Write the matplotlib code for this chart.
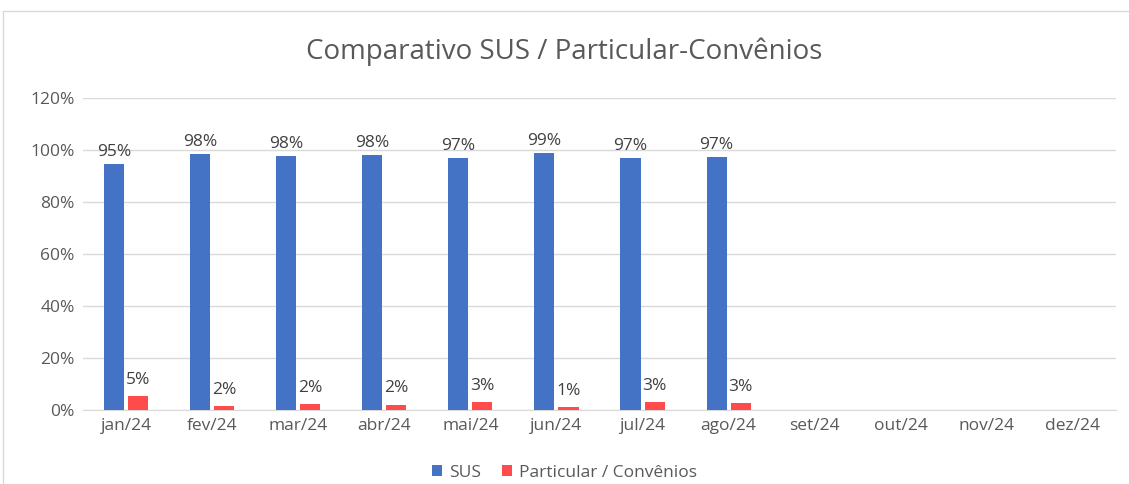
import matplotlib.pyplot as plt
import numpy as np
from matplotlib.patches import Rectangle

months = ["jan/24", "fev/24", "mar/24", "abr/24", "mai/24", "jun/24",
          "jul/24", "ago/24", "set/24", "out/24", "nov/24", "dez/24"]
sus = [94.7, 98.4, 97.7, 98.0, 97.0, 98.8, 97.0, 97.3]
particular = [5.3, 1.6, 2.3, 2.0, 3.0, 1.2, 3.0, 2.7]
yticks = [0, 20, 40, 60, 80, 100, 120]

plt.rcParams['font.family'] = ['Open Sans', 'DejaVu Sans']
txt = "#595959"

fig = plt.figure(figsize=(11.29, 4.84), dpi=100)
ax = fig.add_axes([83/1129, 1 - 410/484, (1116 - 83)/1129, (410 - 98)/484])

# chart border (right and bottom edges run off the image)
fig.patches.append(Rectangle((3/1129, -0.01), 1.01, 1.01 - 11/484, transform=fig.transFigure,
                             fill=False, edgecolor="#d9d9d9", lw=1))

x = np.arange(len(months))
w = 0.233
off = 0.14
b1 = ax.bar(x[:len(sus)] - off, sus, w, color="#4472c4", label="SUS", zorder=3)
b2 = ax.bar(x[:len(particular)] + off, particular, w, color="#ff4b4b",
            label="Particular / Convênios", zorder=3)
ax.bar_label(b1, labels=[f"{v:.0f}%" for v in sus], padding=3, fontsize=12.5, color="#404040")
ax.bar_label(b2, labels=[f"{v:.0f}%" for v in particular], padding=6, fontsize=12.5, color="#404040")

ax.set_xlim(-0.5, len(months) - 0.5)
ax.set_ylim(0, 120)
ax.set_yticks(yticks)
ax.set_yticklabels([f"{t}%" for t in yticks])
ax.set_xticks(x)
ax.set_xticklabels(months)
ax.tick_params(length=0, labelsize=12.5, colors=txt, pad=6)
ax.grid(axis="y", color="#d9d9d9", lw=1, zorder=0)
for s in ["top", "right", "left"]:
    ax.spines[s].set_visible(False)
ax.spines["bottom"].set_color("#d9d9d9")

fig.text(0.5, 1 - 52/484, "Comparativo SUS / Particular-Convênios", ha="center", va="center",
         fontsize=20, color=txt)
fig.legend(handles=[b1, b2], loc="center", bbox_to_anchor=(0.5, 1 - 473/484), ncol=2,
           frameon=False, fontsize=12.5, labelcolor=txt, handlelength=0.6, handleheight=0.6,
           columnspacing=1.2, handletextpad=0.4)

fig.savefig("out.png", dpi=100)
